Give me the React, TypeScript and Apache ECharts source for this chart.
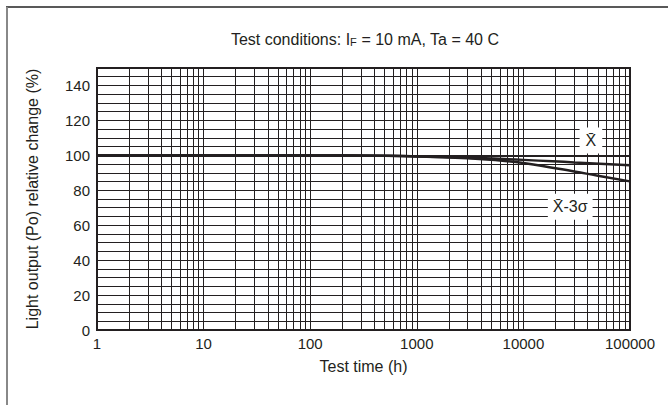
import React, { useEffect, useRef } from "react";
import * as echarts from "echarts";

// Test time (h) and relative light output (%)
const meanTimes = [1, 10, 100, 300, 1000, 3000, 10000, 30000, 100000];
const meanValues = [100, 100, 100, 99.9, 99.4, 98.6, 97.4, 95.9, 94.3];
const lowTimes = [1, 10, 100, 300, 1000, 3000, 5000, 10000, 20000, 30000, 50000, 100000];
const lowValues = [100, 100, 100, 99.9, 99.4, 98.4, 97.5, 95.6, 92.6, 90.8, 88.3, 85.1];

const xTickLabels = ["1", "10", "100", "1000", "10000", "100000"];
const decades = [1, 10, 100, 1000, 10000];
const multipliers = [2, 3, 4, 5, 6, 7, 8, 9];

const meanLabel = { time: 43000, value: 108.5, text: "X\u0304" };
const lowLabel = { time: 27500, value: 70.5, text: "X\u0304-3\u03c3" };

const FONT = "Liberation Sans, Arial, sans-serif";
const INK = "#231f20";

export default function App() {
  const ref = useRef<HTMLDivElement>(null);
  useEffect(() => {
    if (!ref.current) return;
    const chart = echarts.init(ref.current, undefined, { renderer: "svg" });
    const minorX: number[] = [];
    decades.forEach((d) => multipliers.forEach((m) => minorX.push(d * m)));
    const mk = (ts: number[], vs: number[]) => ts.map((t, i) => [t, vs[i]]);

    chart.setOption({
      animation: false,
      backgroundColor: "#fff",
      textStyle: { fontFamily: FONT, color: INK },
      title: {
        text: "Test conditions: I{sub|F} = 10 mA, Ta = 40 C",
        left: 360,
        top: 26,
        textAlign: "center",
        textStyle: {
          fontFamily: FONT,
          fontSize: 16,
          fontWeight: "normal",
          color: INK,
          rich: { sub: { fontFamily: FONT, fontSize: 11, color: INK, verticalAlign: "bottom" } },
        },
      },
      graphic: [
        { type: "line", shape: { x1: 6, y1: 7, x2: 668, y2: 7 }, style: { stroke: "#222", lineWidth: 1.5 } },
        { type: "line", shape: { x1: 7, y1: 7, x2: 7, y2: 405 }, style: { stroke: "#888", lineWidth: 2 } },
      ],
      grid: {
        left: 97,
        right: 38,
        top: 68,
        bottom: 75,
        show: true,
        borderColor: INK,
        borderWidth: 2,
        backgroundColor: "#fff",
      },
      xAxis: {
        type: "log",
        logBase: 10,
        min: 1,
        max: 100000,
        name: "Test time (h)",
        nameLocation: "middle",
        nameGap: 28,
        nameTextStyle: { fontFamily: FONT, fontSize: 16, color: INK },
        axisLine: { show: true, lineStyle: { color: INK, width: 2 } },
        axisTick: { show: false },
        axisLabel: {
          fontFamily: FONT,
          fontSize: 15,
          color: INK,
          margin: 6,
          formatter: (v: number) => {
            const s = String(Math.round(v));
            return xTickLabels.includes(s) ? s : "";
          },
        },
        splitLine: { show: true, lineStyle: { color: INK, width: 1 } },
      },
      yAxis: {
        type: "value",
        min: 0,
        max: 150,
        interval: 5,
        name: "Light output (Po) relative change (%)",
        nameLocation: "middle",
        nameGap: 57,
        nameTextStyle: { fontFamily: FONT, fontSize: 16, color: INK },
        axisLine: { show: true, lineStyle: { color: INK, width: 2 } },
        axisTick: { show: false },
        axisLabel: {
          fontFamily: FONT,
          fontSize: 15,
          color: INK,
          margin: 7,
          formatter: (v: number) => (v % 20 === 0 ? String(v) : ""),
        },
        splitLine: { show: true, lineStyle: { color: INK, width: 1 } },
      },
      series: [
        {
          type: "line",
          data: mk(meanTimes, meanValues),
          smooth: true,
          showSymbol: false,
          silent: true,
          lineStyle: { color: INK, width: 2.5 },
          z: 5,
          markLine: {
            silent: true,
            symbol: "none",
            label: { show: false },
            animation: false,
            data: [
              ...minorX.map((x) => ({ xAxis: x, lineStyle: { color: INK, width: 1, type: "solid" } })),
              { yAxis: 100, lineStyle: { color: INK, width: 2.2, type: "solid" } },
            ],
          },
          markPoint: {
            silent: true,
            symbol: "rect",
            symbolSize: 0,
            data: [
              {
                coord: [meanLabel.time, meanLabel.value],
                label: {
                  show: true,
                  formatter: meanLabel.text,
                  fontFamily: FONT,
                  fontSize: 16,
                  color: INK,
                  backgroundColor: "#fff",
                  padding: [6, 6, 4, 6],
                  position: "inside",
                },
              },
            ],
          },
        },
        {
          type: "line",
          data: mk(lowTimes, lowValues),
          smooth: true,
          showSymbol: false,
          silent: true,
          lineStyle: { color: INK, width: 2.5 },
          z: 5,
          markPoint: {
            silent: true,
            symbol: "rect",
            symbolSize: 0,
            data: [
              {
                coord: [lowLabel.time, lowLabel.value],
                label: {
                  show: true,
                  formatter: lowLabel.text,
                  fontFamily: FONT,
                  fontSize: 16,
                  color: INK,
                  backgroundColor: "#fff",
                  padding: [6, 5, 4, 5],
                  position: "inside",
                },
              },
            ],
          },
        },
      ],
    });
    return () => chart.dispose();
  }, []);
  return (
    <div
      ref={ref}
      style={{ position: "fixed", left: 0, top: 0, width: 668, height: 405 }}
    />
  );
}
